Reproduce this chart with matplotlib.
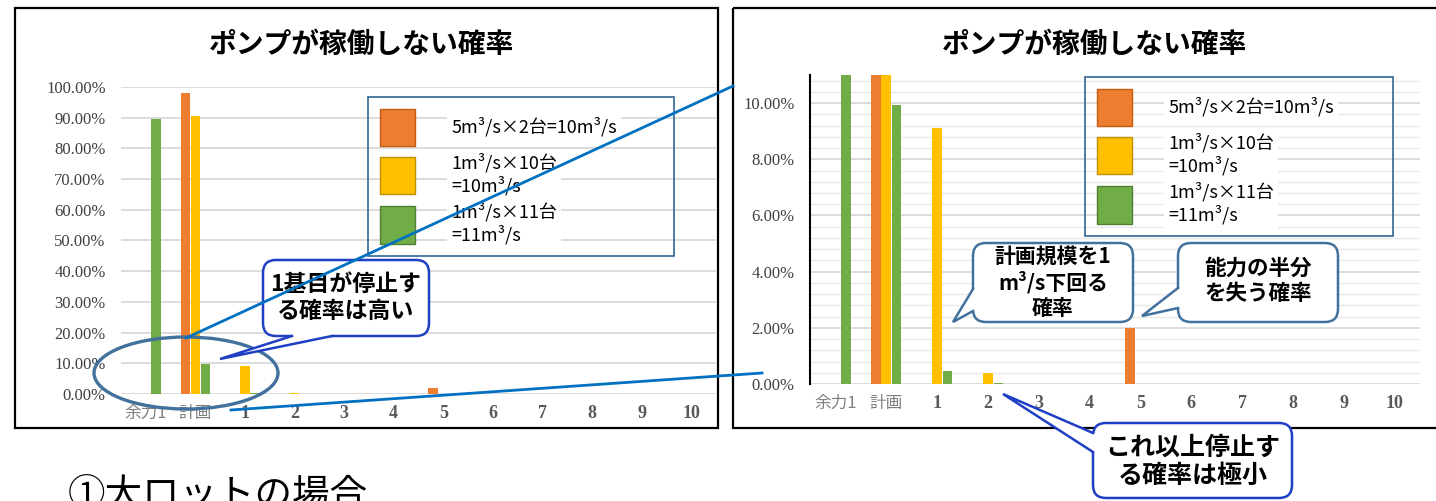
import numpy as np
import matplotlib
matplotlib.use("Agg")
import matplotlib.pyplot as plt
from matplotlib.ticker import PercentFormatter, MultipleLocator
from matplotlib.patches import FancyBboxPatch, Rectangle, Ellipse, Polygon
from matplotlib.lines import Line2D
from matplotlib.transforms import Affine2D

# ---------------- data ----------------
categories = ['余力1', '計画', '1', '2', '3', '4', '5', '6', '7', '8', '9', '10']
# probability (fraction) that the pumps do not run
orange_5x2 = [0.0, 0.980, 0.0, 0.0, 0.0, 0.0, 0.020, 0.0, 0.0, 0.0, 0.0, 0.0]
yellow_1x10 = [0.0, 0.9048, 0.0912, 0.0040, 0.0, 0.0, 0.0, 0.0, 0.0, 0.0, 0.0, 0.0]
green_1x11 = [0.8956, 0.0993, 0.0047, 0.0002, 0.0, 0.0, 0.0, 0.0, 0.0, 0.0, 0.0, 0.0]
series_labels = ['5m³/s×2台=10m³/s', '1m³/s×10台\n=10m³/s', '1m³/s×11台\n=11m³/s']
title = 'ポンプが稼働しない確率'

C_OR, C_YE, C_GR = '#ED7D31', '#FFC000', '#70AD47'
EDGE = {C_OR: '#C55A11', C_YE: '#BF9000', C_GR: '#507E32'}
CJK = ['Noto Sans CJK JP', 'DejaVu Sans']
SERIF = ['Liberation Serif', 'Noto Sans CJK JP']

W, H, DPI = 1436, 501, 100
fig = plt.figure(figsize=(W / DPI, H / DPI), dpi=DPI)
fig.patch.set_facecolor('white')

def fx(x):
    return x / W

def fy(y):
    return 1 - y / H

# pixel transform (origin top-left, y down)
PX = Affine2D().scale(1 / DPI, -1 / DPI).translate(0, H / DPI) + fig.dpi_scale_trans


def draw_chart(ax, ylim, major, minor, spine):
    x = np.arange(len(categories))
    w, off = 0.19, 0.205
    b1 = ax.bar(x - off, orange_5x2, w, color=C_OR, linewidth=0, zorder=3)
    b2 = ax.bar(x, yellow_1x10, w, color=C_YE, linewidth=0, zorder=3)
    b3 = ax.bar(x + off, green_1x11, w, color=C_GR, linewidth=0, zorder=3)
    ax.set_xlim(-0.5, len(categories) - 0.5)
    ax.set_ylim(*ylim)
    ax.yaxis.set_major_locator(MultipleLocator(major))
    ax.yaxis.set_major_formatter(PercentFormatter(xmax=1.0, decimals=2))
    ax.grid(axis='y', which='major', color='#D9D9D9', linewidth=1.3, zorder=0)
    if minor:
        ax.yaxis.set_minor_locator(MultipleLocator(minor))
        ax.grid(axis='y', which='minor', color='#E8E8E8', linewidth=1.0, zorder=0)
    ax.set_axisbelow(True)
    for s in ax.spines.values():
        s.set_visible(False)
    if spine:
        ax.spines['left'].set_visible(True)
        ax.spines['left'].set_color('black')
        ax.spines['left'].set_linewidth(1.5)
    ax.set_xticks(x, categories)
    ax.tick_params(axis='both', which='both', length=0)
    ax.tick_params(axis='y', pad=11)
    ax.tick_params(axis='x', pad=8)
    for t in ax.get_yticklabels():
        t.set_family(SERIF)
        t.set_fontsize(12)
        t.set_color('#404040')
    for i, t in enumerate(ax.get_xticklabels()):
        if i < 2:
            t.set_family(CJK)
            t.set_fontsize(12)
            t.set_color('#808080')
        else:
            t.set_family(SERIF)
            t.set_fontsize(13)
            t.set_fontweight('bold')
            t.set_color('#595959')
    ax.set_facecolor('none')
    return [b1, b2, b3]


def add_legend(ax, handles, left, top, right):
    leg = ax.legend(handles, series_labels, loc='upper left',
                    bbox_to_anchor=(fx(left), fy(top) - 0.01, (right - left) / W, 0.01),
                    bbox_transform=fig.transFigure, mode='expand', borderaxespad=0,
                    prop={'family': CJK, 'size': 13}, handlelength=1.95, handleheight=2.78,
                    handletextpad=2.0, labelspacing=0.4, borderpad=0.65,
                    fancybox=False, framealpha=1)
    fr = leg.get_frame()
    fr.set_edgecolor('#41719C')
    fr.set_facecolor('none')
    fr.set_linewidth(1.3)
    for h in leg.legend_handles:
        h.set_edgecolor(EDGE[matplotlib.colors.to_hex(h.get_facecolor()).upper()])
        h.set_linewidth(1.0)
    for t in leg.get_texts():
        t.set_bbox(dict(facecolor='white', edgecolor='none', pad=3))
    leg.set_zorder(5)
    return leg


# left chart
ax1 = fig.add_axes([fx(121), fy(394), (716 - 121) / W, (394 - 87) / H])
h1 = draw_chart(ax1, (0, 1.0), 0.1, None, False)
add_legend(ax1, h1, 368, 97, 674)

# right chart (zoom)
ax2 = fig.add_axes([fx(810), fy(384), (1420 - 810) / W, (384 - 75) / H])
h2 = draw_chart(ax2, (0, 0.11), 0.02, 0.004, True)
add_legend(ax2, h2, 1085, 77, 1393)

# titles
for cx in (362, 1095):
    fig.text(fx(cx), fy(45), title, ha='center', va='center', fontsize=20,
             fontweight='bold', family=CJK)

# frames
fig.add_artist(Rectangle((15, 8), 703, 420, transform=PX, fill=False,
                         edgecolor='black', linewidth=1.6, zorder=1))
fig.add_artist(Rectangle((733, 8), 710, 420, transform=PX, fill=False,
                         edgecolor='black', linewidth=1.6, zorder=1))


def callout(x0, y0, x1, y1, b1, tip, b2, inward, text, ec, fs, tx, ty, z=10):
    box = FancyBboxPatch((x0, y0), x1 - x0, y1 - y0,
                         boxstyle='round,pad=0,rounding_size=13', transform=PX,
                         facecolor='white', edgecolor=ec, linewidth=1.8, zorder=z)
    fig.add_artist(box)
    ix, iy = inward
    cover = Polygon([(b1[0] + ix, b1[1] + iy), b1, tip, b2, (b2[0] + ix, b2[1] + iy)],
                    closed=True, transform=PX, facecolor='white', edgecolor='none',
                    zorder=z + 0.1)
    fig.add_artist(cover)
    fig.add_artist(Line2D([b1[0], tip[0], b2[0]], [b1[1], tip[1], b2[1]], transform=PX,
                          color=ec, linewidth=1.8, zorder=z + 0.2,
                          solid_joinstyle='miter'))
    fig.text(fx(tx), fy(ty), text, ha='center', va='center', fontsize=fs,
             fontweight='bold', family=CJK, linespacing=1.25, zorder=z + 0.3)


DARKBLUE = '#1F3FC4'
STEEL = '#41719C'

# ellipse around the low values of the left chart
fig.add_artist(Ellipse((186, 373), 184, 72, transform=PX, fill=False,
                       edgecolor=STEEL, linewidth=2.4, zorder=8))

callout(263, 260, 429, 336, (292, 336), (220, 359), (332, 336), (0, -4),
        '1基目が停止す\nる確率は高い', DARKBLUE, 16.5, 346, 298)
callout(973, 243, 1133, 322, (973, 289), (953, 322), (973, 311), (4, 0),
        '計画規模を1\nm³/s下回る\n確率', STEEL, 15, 1053, 282)
callout(1178, 243, 1338, 322, (1178, 288), (1142, 316), (1178, 308), (4, 0),
        '能力の半分\nを失う確率', STEEL, 15.5, 1258, 281)
callout(1093, 423, 1292, 498, (1093, 433), (1003, 394), (1093, 452), (4, 0),
        'これ以上停止す\nる確率は極小', DARKBLUE, 18, 1193, 462)

# zoom connector lines
for (xa, ya), (xb, yb) in [((186, 338), (733, 86)), ((231, 410), (762, 373))]:
    fig.add_artist(Line2D([xa, xb], [ya, yb], transform=PX, color='#0070C0',
                          linewidth=2.0, zorder=20))

# caption (cut off at the bottom edge as in the reference)
fig.text(fx(68), fy(506), '①大ロットの場合', ha='left', va='baseline', fontsize=27,
         family=CJK)

fig.savefig('out.png', dpi=DPI)
